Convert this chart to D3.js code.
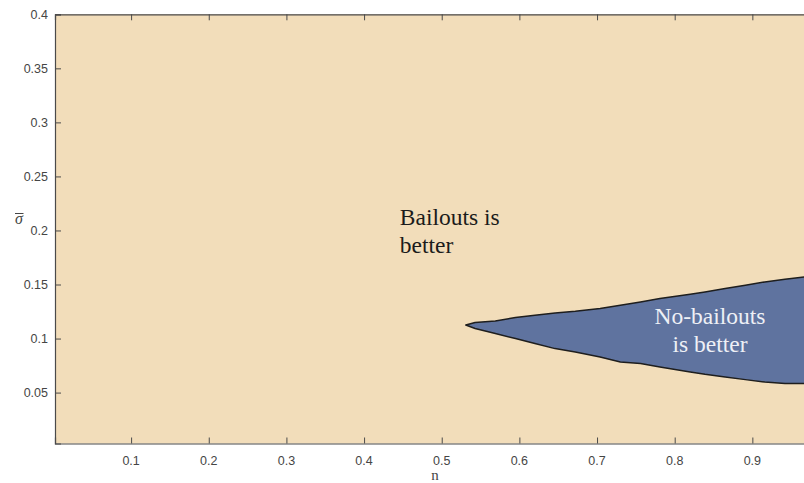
<!DOCTYPE html>
<html>
<head>
<meta charset="utf-8">
<script src="https://cdn.jsdelivr.net/npm/d3@7"></script>
<style>
  html, body { margin: 0; padding: 0; background: #ffffff; }
  svg { display: block; overflow: hidden; }
</style>
</head>
<body>
<svg id="chart" width="804" height="483"></svg>
<script>
// Region where no-bailouts dominates: its upper and lower boundary in (n, sigma-bar)
const nValues     = [0.531, 0.543, 0.569, 0.595, 0.620, 0.646, 0.672, 0.704, 0.730, 0.756, 0.781, 0.820, 0.839, 0.865, 0.891, 0.916, 0.942, 0.967, 1.000];
const upperSigma  = [0.1125, 0.1148, 0.1163, 0.1194, 0.1215, 0.1237, 0.1253, 0.1278, 0.1308, 0.1339, 0.1370, 0.1410, 0.1431, 0.1463, 0.1494, 0.1524, 0.1549, 0.1570, 0.1600];
const lowerSigma  = [0.1125, 0.1093, 0.1046, 0.1000, 0.0954, 0.0907, 0.0876, 0.0830, 0.0783, 0.0769, 0.0737, 0.0691, 0.0669, 0.0644, 0.0620, 0.0598, 0.0583, 0.0583, 0.0570];

// Axis ticks
const xTicks = [0.1, 0.2, 0.3, 0.4, 0.5, 0.6, 0.7, 0.8, 0.9];
const yTicks = [0.05, 0.1, 0.15, 0.2, 0.25, 0.3, 0.35, 0.4];

// Region labels
const regionLabels = [
  { lines: ["Bailouts is", "better"], n: 0.446, sigma: 0.205, anchor: "start", color: "#1b1b1b" },
  { lines: ["No-bailouts", "is better"], n: 0.8455, sigma: 0.1139, anchor: "middle", color: "#eef0f6" }
];

const svg = d3.select("#chart");

const plot = { left: 55, top: 14.3, bottom: 443.5, right: 830 };

const x = d3.scaleLinear().domain([0.002, 1]).range([plot.left, plot.right]);
const y = d3.scaleLinear().domain([0.0029, 0.4]).range([plot.bottom, plot.top]);

const beige = "#F2DDBA";
const blue = "#5F739F";
const axisColor = "#4a4a4a";
const textColor = "#454545";

svg.append("defs").append("clipPath").attr("id", "plotClip")
  .append("rect")
  .attr("x", plot.left).attr("y", plot.top)
  .attr("width", plot.right - plot.left).attr("height", plot.bottom - plot.top);

// Background: bailouts-preferred region
svg.append("rect")
  .attr("x", plot.left).attr("y", plot.top)
  .attr("width", plot.right - plot.left).attr("height", plot.bottom - plot.top)
  .attr("fill", beige);

// No-bailouts region polygon
const pts = nValues.map((n, i) => [n, upperSigma[i]])
  .concat(nValues.map((n, i) => [n, lowerSigma[i]]).reverse());

const line = d3.line().x(d => x(d[0])).y(d => y(d[1])).curve(d3.curveLinearClosed);

const g = svg.append("g").attr("clip-path", "url(#plotClip)");
g.append("path")
  .attr("d", line(pts))
  .attr("fill", blue)
  .attr("stroke", "#1e1e1e")
  .attr("stroke-width", 1.5)
  .attr("stroke-linejoin", "round");

// Axes (ticks pointing inward, box on)
const tickLen = 6;
const xAxisBottom = d3.axisTop(x).tickValues(xTicks).tickSize(tickLen).tickFormat("");
const xAxisTop = d3.axisBottom(x).tickValues(xTicks).tickSize(tickLen).tickFormat("");
const yAxisLeft = d3.axisRight(y).tickValues(yTicks).tickSize(tickLen).tickFormat("");
const yAxisRight = d3.axisLeft(y).tickValues(yTicks).tickSize(tickLen).tickFormat("");

function styleAxis(sel) {
  sel.selectAll("path").attr("stroke", axisColor).attr("stroke-width", 1.2);
  sel.selectAll("line").attr("stroke", axisColor).attr("stroke-width", 1);
}

svg.append("g").attr("transform", `translate(0,${plot.bottom})`).call(xAxisBottom).call(styleAxis);
svg.append("g").attr("transform", `translate(0,${plot.top})`).call(xAxisTop).call(styleAxis);
svg.append("g").attr("transform", `translate(${plot.left},0)`).call(yAxisLeft).call(styleAxis);
svg.append("g").attr("transform", `translate(${plot.right},0)`).call(yAxisRight).call(styleAxis);

// Tick labels
svg.append("g").selectAll("text").data(xTicks).join("text")
  .attr("x", d => x(d)).attr("y", 464.5)
  .attr("text-anchor", "middle")
  .attr("font-family", "Liberation Sans, Arial, sans-serif")
  .attr("font-size", 12.5).attr("fill", textColor)
  .text(d => d3.format("")(d));

svg.append("g").selectAll("text").data(yTicks).join("text")
  .attr("x", plot.left - 7).attr("y", d => y(d) + 4.5)
  .attr("text-anchor", "end")
  .attr("font-family", "Liberation Sans, Arial, sans-serif")
  .attr("font-size", 12.5).attr("fill", textColor)
  .text(d => d3.format("")(d));

// Axis titles
svg.append("text")
  .attr("x", 435).attr("y", 480)
  .attr("text-anchor", "middle")
  .attr("font-family", "Liberation Serif, Times New Roman, serif")
  .attr("font-size", 15).attr("fill", textColor)
  .text("n");

svg.append("text")
  .attr("x", 19).attr("y", 224)
  .attr("text-anchor", "middle")
  .attr("font-family", "Liberation Serif, Times New Roman, serif")
  .attr("font-style", "italic")
  .attr("font-size", 16).attr("fill", textColor)
  .text("σ");
svg.append("line")
  .attr("x1", 15).attr("x2", 23.5).attr("y1", 213.5).attr("y2", 213.5)
  .attr("stroke", textColor).attr("stroke-width", 1);

// Region annotations
regionLabels.forEach(lab => {
  const t = svg.append("text")
    .attr("x", x(lab.n)).attr("y", y(lab.sigma))
    .attr("text-anchor", lab.anchor)
    .attr("font-family", "Liberation Serif, Times New Roman, serif")
    .attr("font-size", 23.5).attr("fill", lab.color);
  lab.lines.forEach((s, i) => {
    t.append("tspan").attr("x", x(lab.n)).attr("dy", i === 0 ? 0 : 28.3).text(s);
  });
});
</script>
</body>
</html>
